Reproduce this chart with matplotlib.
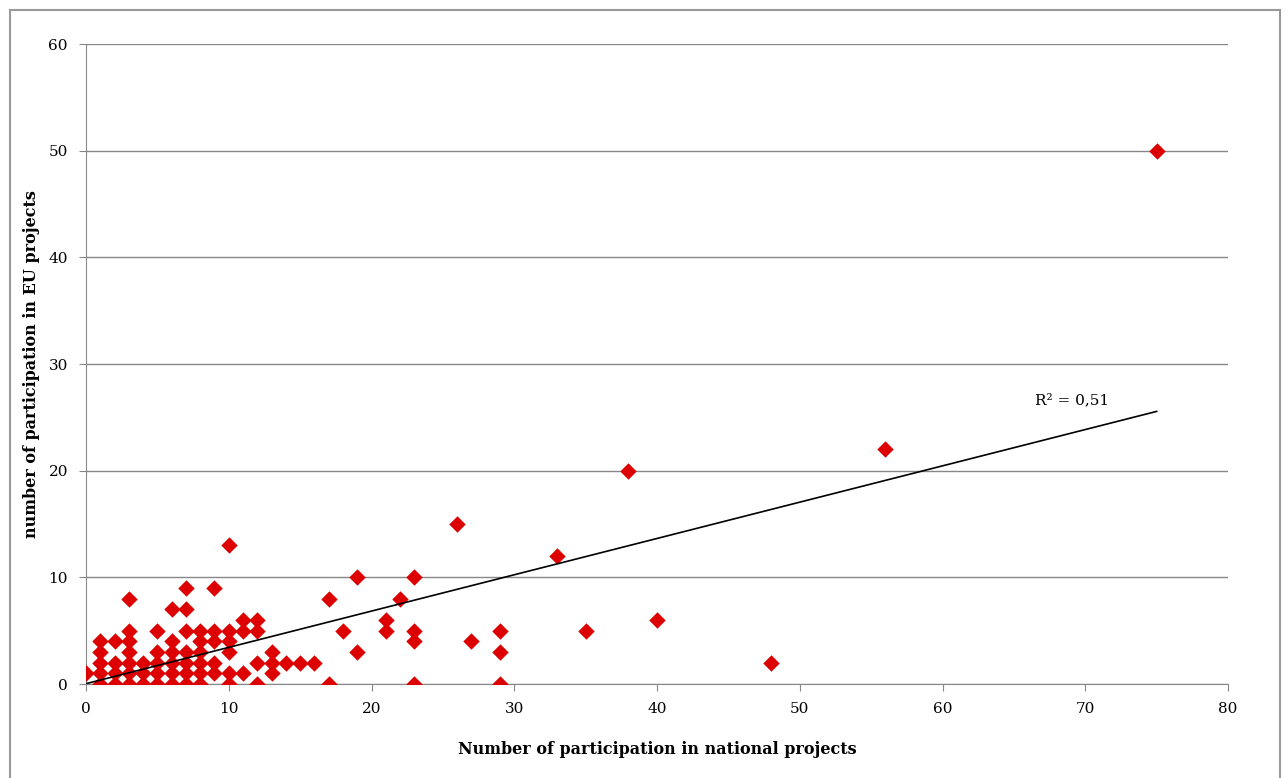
import numpy as np
import matplotlib
matplotlib.use('Agg')
import matplotlib.pyplot as plt
from matplotlib.patches import Rectangle

# participation counts (national, EU)
national = [0,
            1, 1, 1, 1, 1,
            2, 2, 2, 2,
            3, 3, 3, 3, 3, 3, 3,
            4, 4, 4,
            5, 5, 5, 5, 5,
            6, 6, 6, 6, 6, 6,
            7, 7, 7, 7, 7, 7, 7,
            8, 8, 8, 8, 8, 8,
            9, 9, 9, 9, 9,
            10, 10, 10, 10, 10, 10,
            11, 11, 11,
            12, 12, 12, 12,
            13, 13, 13,
            14, 15, 16,
            17, 17, 18, 19, 19, 21, 21, 22,
            23, 23, 23, 23, 26, 27, 29, 29, 29,
            33, 35, 38, 40, 48, 56, 75]
eu = [1,
      0, 1, 2, 3, 4,
      0, 1, 2, 4,
      0, 1, 2, 3, 4, 5, 8,
      0, 1, 2,
      0, 1, 2, 3, 5,
      0, 1, 2, 3, 4, 7,
      0, 1, 2, 3, 5, 7, 9,
      0, 1, 2, 3, 4, 5,
      1, 2, 4, 5, 9,
      0, 1, 3, 4, 5, 13,
      1, 5, 6,
      0, 2, 5, 6,
      1, 2, 3,
      2, 2, 2,
      0, 8, 5, 3, 10, 5, 6, 8,
      0, 4, 5, 10, 15, 4, 0, 3, 5,
      12, 5, 20, 6, 2, 22, 50]

x = np.array(national)
y = np.array(eu)
slope, intercept = np.polyfit(x, y, 1)

plt.rcParams['font.family'] = 'DejaVu Serif'
fig = plt.figure(figsize=(12.86, 7.78), dpi=100)
ax = fig.add_axes([86/1286, 1-684/778, (1228-86)/1286, (684-44)/778])

# frame around the chart (bottom edge is cut off in the original)
fig.patches.append(Rectangle((10/1286, -0.05), 1270/1286, 1.05 - 10/778, transform=fig.transFigure,
                             fill=False, edgecolor='#999999', linewidth=1.5))

ax.scatter(x, y, marker='D', s=70, color='#DD0000', zorder=3, linewidths=0)

tx = np.array([0, 75])
ax.plot(tx, slope * tx + intercept, color='black', linewidth=1.2, zorder=4)
ax.text(66.5, 26.2, 'R² = 0,51', fontsize=11)

ax.set_xlim(0, 80)
ax.set_ylim(0, 60)
ax.set_xticks(range(0, 81, 10))
ax.set_yticks(range(0, 61, 10))
ax.grid(axis='y', color='#888888', linewidth=1)
ax.set_axisbelow(True)
for s in ['top', 'right']:
    ax.spines[s].set_visible(False)
for s in ['left', 'bottom']:
    ax.spines[s].set_color('#888888')
ax.tick_params(colors='#888888', labelcolor='black', labelsize=11, length=5, pad=8)
ax.set_xlabel('Number of participation in national projects', fontsize=11.5, fontweight='bold', labelpad=18)
ax.set_ylabel('number of participation in EU projects', fontsize=11.5, fontweight='bold')
ax.yaxis.set_label_coords(-0.040, 0.5)

fig.savefig('out.png', dpi=100)
